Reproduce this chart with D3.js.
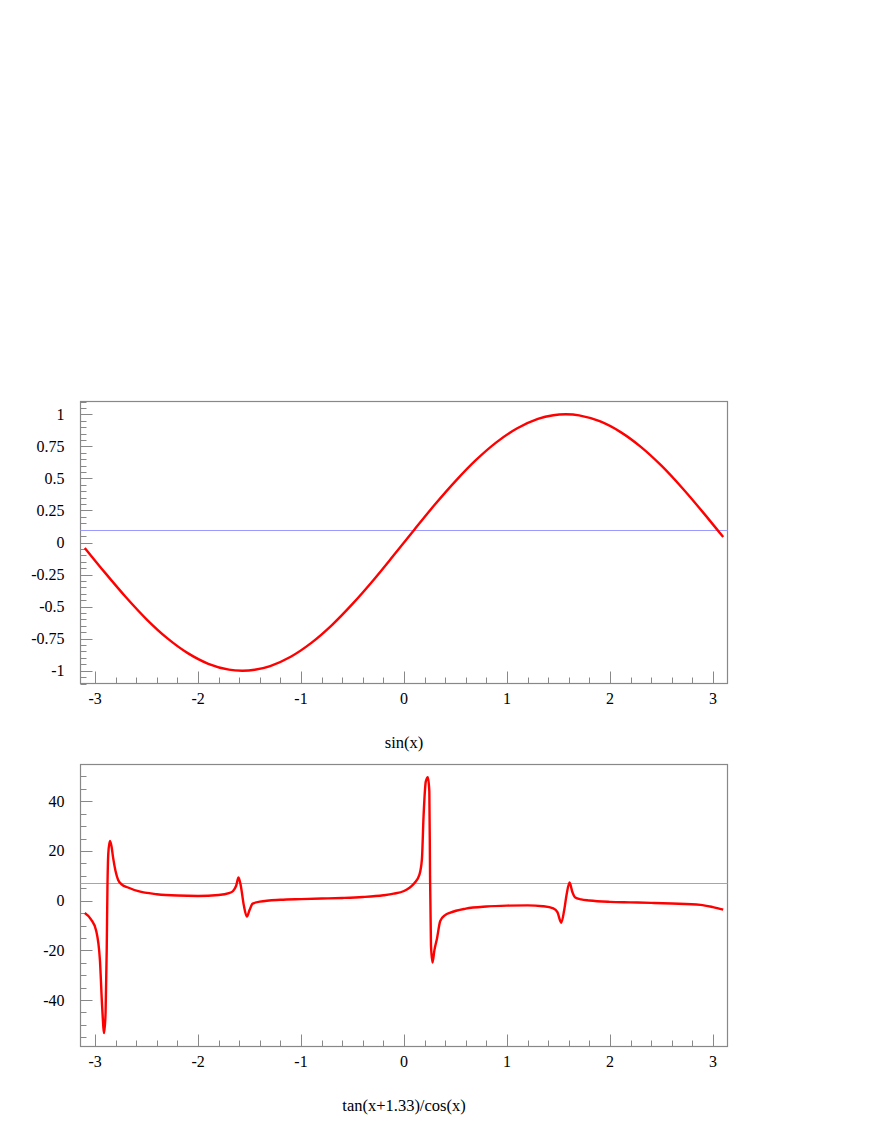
<!DOCTYPE html>
<html>
<head>
<meta charset="utf-8">
<script src="https://cdn.jsdelivr.net/npm/d3@7"></script>
<style>
  html, body { margin: 0; padding: 0; background: #fff; }
  svg text { font-family: "Liberation Serif", "Times New Roman", serif; fill: #000; }
</style>
</head>
<body>
<svg id="chart" width="872" height="1128"></svg>
<script>
// ---------- data ----------
const xTickValues = [-3, -2, -1, 0, 1, 2, 3];
const xTickLabels = ["-3", "-2", "-1", "0", "1", "2", "3"];

// Panel 1: sin(x)
const sinTitle = "sin(x)";
const sinX = [-3.1, -2.9, -2.7, -2.5, -2.3, -2.1, -1.9, -1.7, -1.5708, -1.45, -1.3, -1.1, -0.9, -0.7, -0.5, -0.3, -0.1,
              0.1, 0.3, 0.5, 0.7, 0.9, 1.1, 1.3, 1.45, 1.5708, 1.7, 1.9, 2.1, 2.3, 2.5, 2.7, 2.9, 3.1];
const sinY = [-0.042, -0.239, -0.427, -0.599, -0.746, -0.863, -0.946, -0.992, -1.0, -0.993, -0.964, -0.891, -0.783,
              -0.644, -0.479, -0.296, -0.100, 0.100, 0.296, 0.479, 0.644, 0.783, 0.891, 0.964, 0.993, 1.0, 0.992,
              0.946, 0.863, 0.746, 0.599, 0.427, 0.239, 0.042];
const sinRefLine = 0.1;
const sinYTicks = [-1, -0.75, -0.5, -0.25, 0, 0.25, 0.5, 0.75, 1];
const sinYTickLabels = ["-1", "-0.75", "-0.5", "-0.25", "0", "0.25", "0.5", "0.75", "1"];
const sinYDomain = [-1.1, 1.1];

// Panel 2: tan(x+1.33)/cos(x)
const tanTitle = "tan(x+1.33)/cos(x)";
const tanX = [-3.10, -3.04, -2.99, -2.953, -2.931, -2.912, -2.898, -2.887, -2.880, -2.872, -2.857, -2.841, -2.825,
              -2.802, -2.776, -2.74, -2.68, -2.58, -2.4, -2.2, -2.0, -1.8, -1.7, -1.66, -1.63, -1.607, -1.585,
              -1.555, -1.526, -1.50, -1.47, -1.40, -1.2, -1.0, -0.8, -0.6, -0.4, -0.2, -0.1, 0.0, 0.05, 0.10,
              0.15, 0.174, 0.19, 0.212, 0.232, 0.246, 0.253, 0.262, 0.277, 0.295, 0.32, 0.352, 0.40, 0.45, 0.6,
              0.8, 1.0, 1.2, 1.35, 1.45, 1.49, 1.527, 1.555, 1.58, 1.608, 1.635, 1.663, 1.72, 1.8, 2.0, 2.2, 2.4,
              2.6, 2.88, 3.0, 3.1];
const tanY = [-5.0, -7.5, -12, -24, -43, -53.3, -45, -20, 5, 18.7, 24, 22, 17.3,
              12, 8.3, 6.5, 5.3, 3.8, 2.6, 2.05, 1.9, 2.25, 3.0, 3.9, 6.0, 9.3, 6.0,
              -2.0, -6.4, -3.8, -1.2, -0.4, 0.35, 0.63, 0.85, 1.08, 1.45, 2.15, 2.8, 3.9, 5.1, 7.0,
              10.5, 16.7, 34, 48, 49.7, 44, 10, -18, -24.9, -20, -15.3, -8.2, -5.8, -4.8, -3.2,
              -2.35, -2.0, -1.9, -2.25, -3.1, -4.6, -8.9, -4.0, 2.7, 7.3, 3.5, 1.3, 0.5, 0.05, -0.5, -0.7, -0.9,
              -1.15, -1.7, -2.6, -3.6];
const tanRefLine = 7;
const tanYTicks = [-40, -20, 0, 20, 40];
const tanYTickLabels = ["-40", "-20", "0", "20", "40"];
const tanYDomain = [-58.7, 54.8];

// ---------- drawing ----------
const svg = d3.select("#chart");
const frameLeft = 80.5, frameRight = 727.5;
const axisColor = "#888888";

function drawPanel(cfg) {
  const x = d3.scaleLinear().domain([-Math.PI, Math.PI]).range([frameLeft, frameRight]);
  const y = d3.scaleLinear().domain(cfg.yDomain).range([cfg.bottom, cfg.top]);
  const g = svg.append("g");

  // frame
  g.append("rect")
    .attr("x", frameLeft).attr("y", cfg.top)
    .attr("width", frameRight - frameLeft).attr("height", cfg.bottom - cfg.top)
    .attr("fill", "none").attr("stroke", axisColor).attr("stroke-width", 1.2);

  // x ticks (minor every 0.2, major at integers)
  const xMinor = d3.range(-15, 16).map(i => i * 0.2).filter(v => x(v) > frameLeft + 1 && x(v) < frameRight - 1);
  g.selectAll(null).data(xMinor).enter().append("line")
    .attr("x1", d => Math.round(x(d)) + 0.5).attr("x2", d => Math.round(x(d)) + 0.5)
    .attr("y1", cfg.bottom).attr("y2", d => cfg.bottom - (Math.abs(d - Math.round(d)) < 1e-6 ? 12 : 6))
    .attr("stroke", axisColor).attr("stroke-width", 1);

  // x labels
  g.selectAll(null).data(xTickValues).enter().append("text")
    .attr("x", d => x(d)).attr("y", cfg.bottom + 20)
    .attr("text-anchor", "middle").attr("font-size", 16)
    .text((d, i) => xTickLabels[i]);

  // y ticks
  const yMinor = d3.range(Math.ceil(cfg.yDomain[0] / cfg.yMinorStep), Math.floor(cfg.yDomain[1] / cfg.yMinorStep) + 1)
    .map(i => i * cfg.yMinorStep);
  g.selectAll(null).data(yMinor).enter().append("line")
    .attr("x1", frameLeft).attr("x2", frameLeft + 6)
    .attr("y1", d => Math.round(y(d)) + 0.5).attr("y2", d => Math.round(y(d)) + 0.5)
    .attr("stroke", axisColor).attr("stroke-width", 1);
  g.selectAll(null).data(cfg.yTicks).enter().append("line")
    .attr("x1", frameLeft).attr("x2", frameLeft + 12)
    .attr("y1", d => Math.round(y(d)) + 0.5).attr("y2", d => Math.round(y(d)) + 0.5)
    .attr("stroke", axisColor).attr("stroke-width", 1);
  g.selectAll(null).data(cfg.yTicks).enter().append("text")
    .attr("x", frameLeft - 16).attr("y", d => y(d) + 5.5)
    .attr("text-anchor", "end").attr("font-size", 16)
    .text((d, i) => cfg.yTickLabels[i]);

  // reference line
  const ry = Math.round(y(cfg.ref)) + 0.5;
  g.append("line")
    .attr("x1", frameLeft).attr("x2", frameRight)
    .attr("y1", ry).attr("y2", ry)
    .attr("stroke", "#9a9aff").attr("stroke-width", 1);

  // curve
  const pts = cfg.xs.map((v, i) => [v, cfg.ys[i]]);
  const line = d3.line().x(d => x(d[0])).y(d => y(d[1])).curve(cfg.curve);
  g.append("path").attr("d", line(pts))
    .attr("fill", "none").attr("stroke", "#ff0000").attr("stroke-width", 2.4)
    .attr("stroke-linejoin", "round");

  // title
  g.append("text")
    .attr("x", (frameLeft + frameRight) / 2).attr("y", cfg.bottom + 64)
    .attr("text-anchor", "middle").attr("font-size", 16.5)
    .text(cfg.title);
}

drawPanel({ top: 401.5, bottom: 683.5, yDomain: sinYDomain, yTicks: sinYTicks, yTickLabels: sinYTickLabels,
            yMinorStep: 0.05, ref: sinRefLine, xs: sinX, ys: sinY, title: sinTitle, curve: d3.curveCatmullRom });
drawPanel({ top: 764.5, bottom: 1046.5, yDomain: tanYDomain, yTicks: tanYTicks, yTickLabels: tanYTickLabels,
            yMinorStep: 5, ref: tanRefLine, xs: tanX, ys: tanY, title: tanTitle, curve: d3.curveMonotoneX });
</script>
</body>
</html>
